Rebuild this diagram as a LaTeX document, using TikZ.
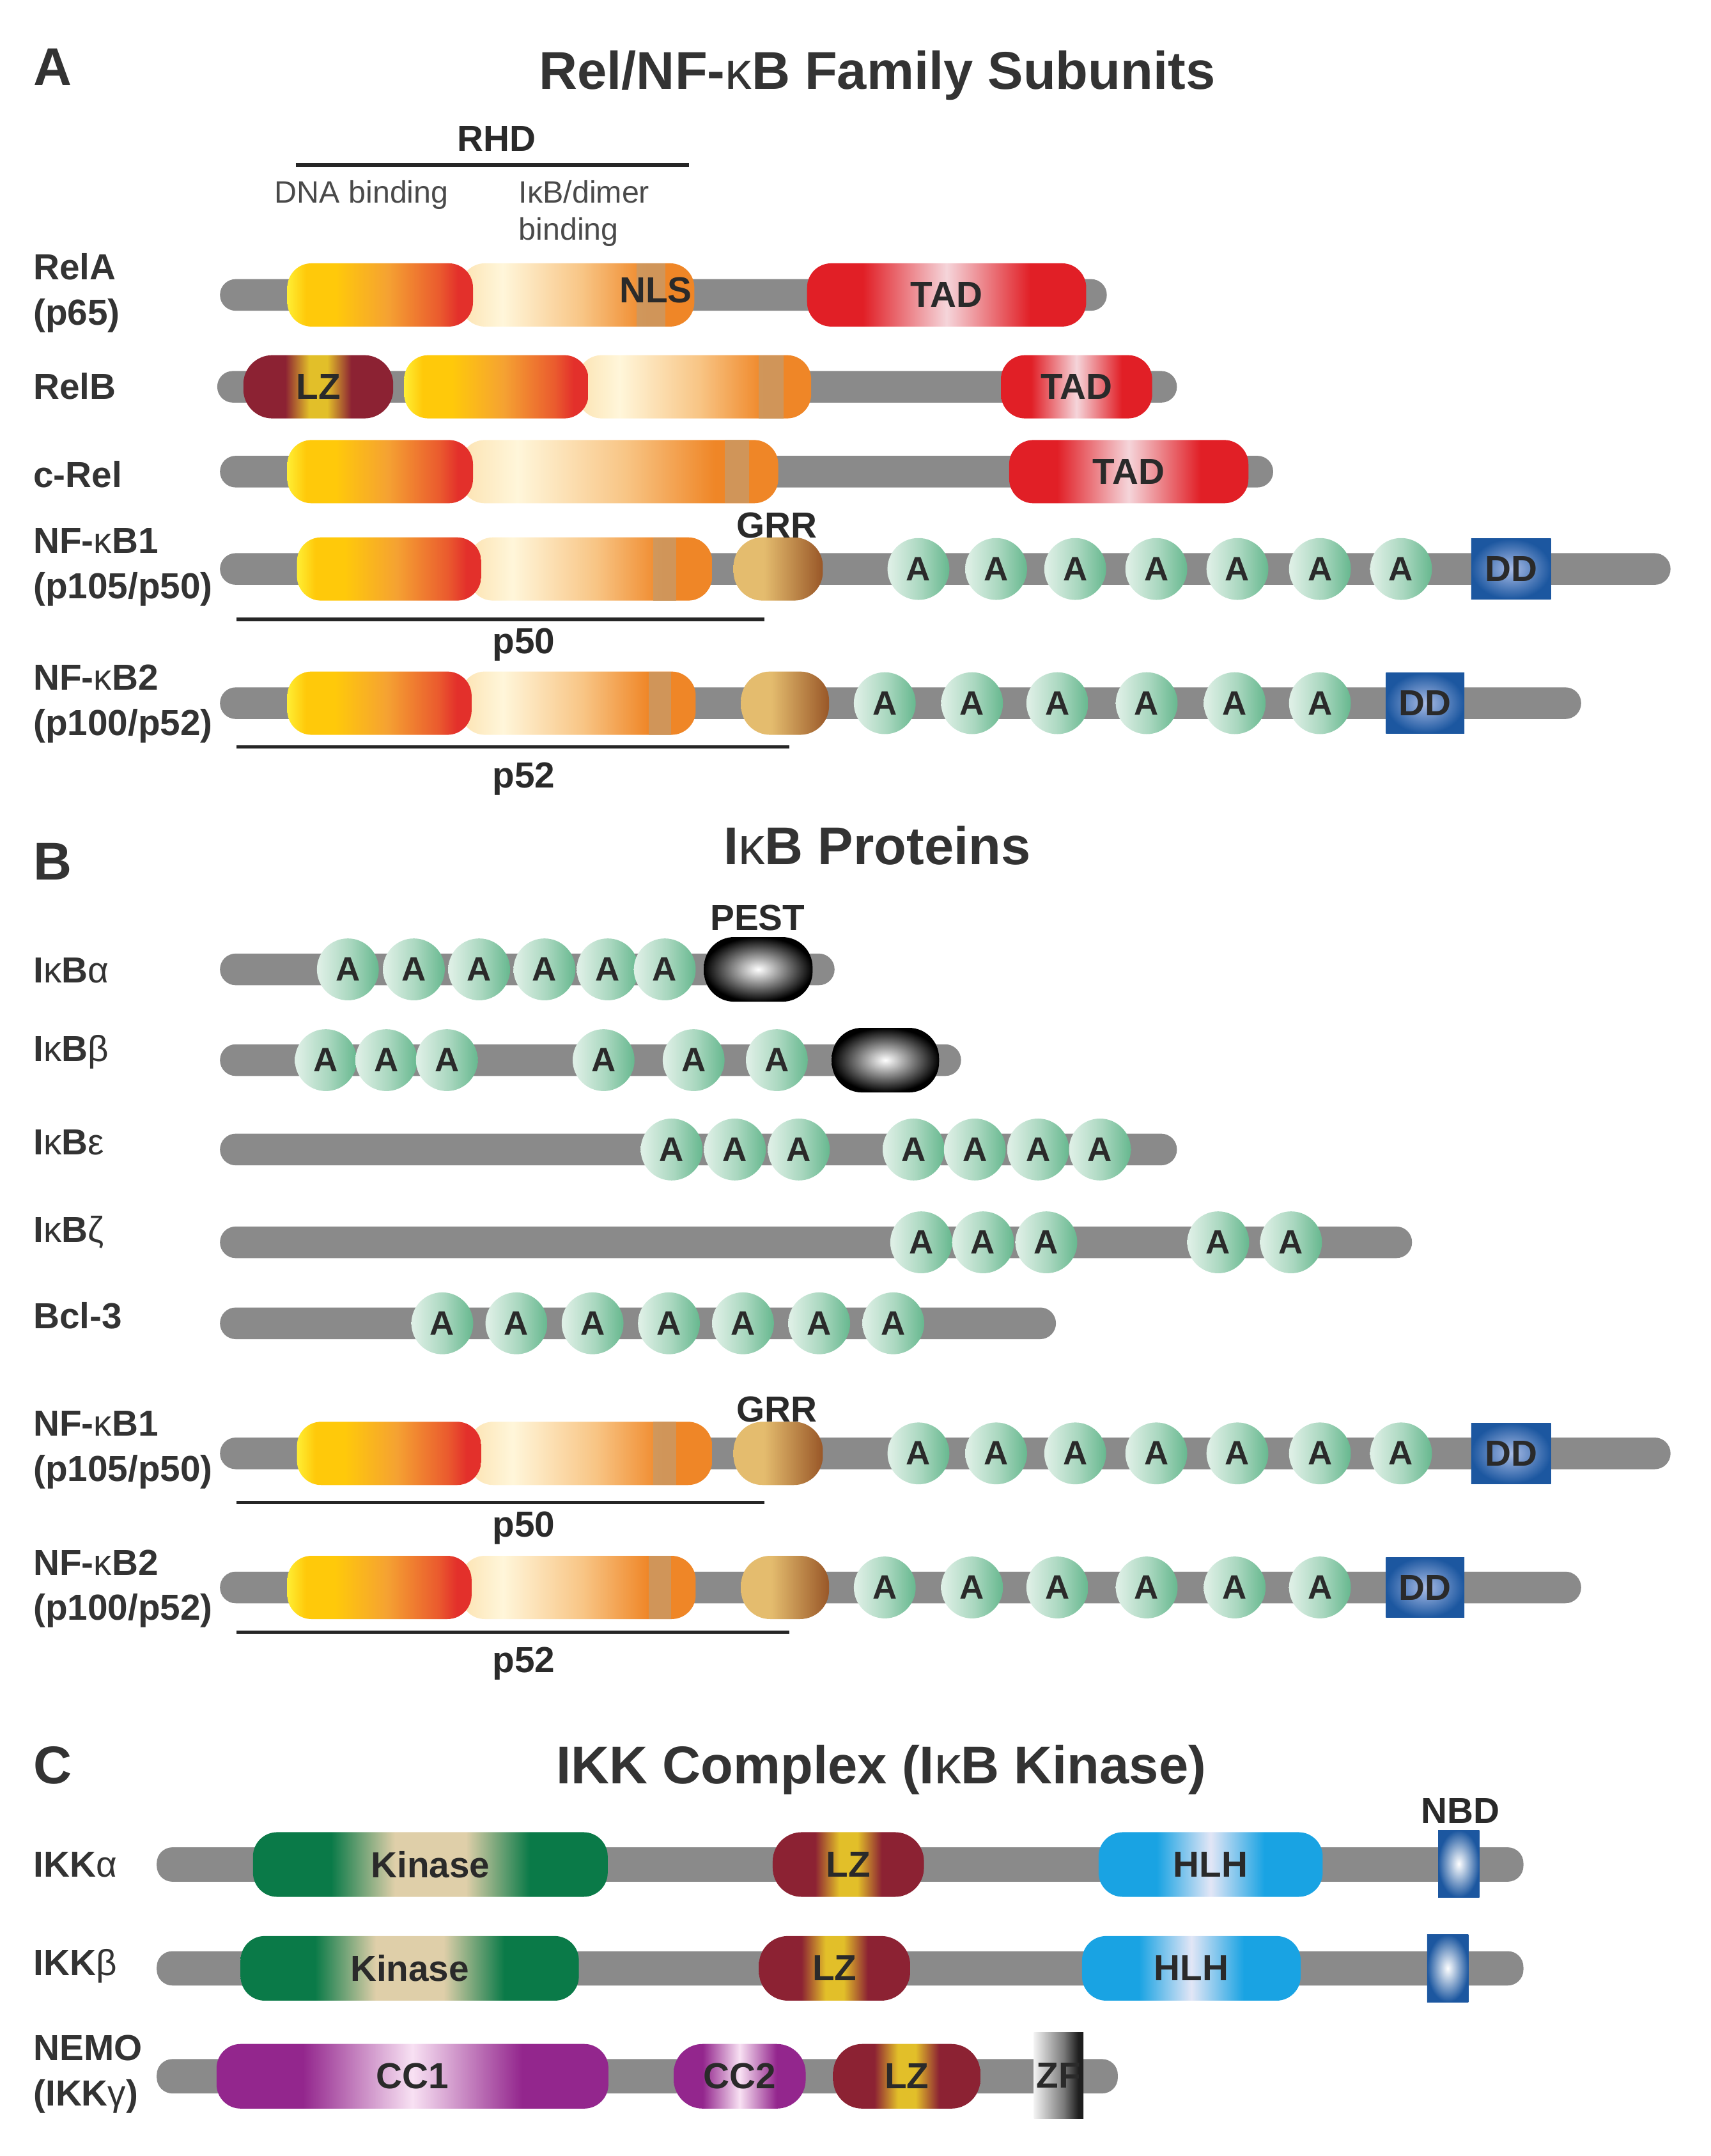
\documentclass[tikz,border=0pt]{standalone}
\usepackage{fontspec}
\setmainfont{Liberation Sans}

\definecolor{bbgray}{HTML}{8A8A8A}
\definecolor{txtgray}{HTML}{2A2A2A}
\definecolor{lblgray}{HTML}{333333}
\definecolor{notegray}{HTML}{4A4A4A}
\definecolor{dnayel}{HTML}{FFEE33}
\definecolor{dnagold}{HTML}{FFC90A}
\definecolor{dnaor}{HTML}{F5A232}
\definecolor{dnaredor}{HTML}{EA5A2E}
\definecolor{dnared}{HTML}{E3302B}
\definecolor{crpale}{HTML}{FFF6DA}
\definecolor{crside}{HTML}{FCE3B2}
\definecolor{crlight}{HTML}{F8C585}
\definecolor{cror}{HTML}{EF8627}
\definecolor{nlstan}{HTML}{C69B6A}
\definecolor{tadred}{HTML}{E11F26}
\definecolor{tadpink}{HTML}{F5D5DA}
\definecolor{lzred}{HTML}{8C2233}
\definecolor{lzyel}{HTML}{E2BF29}
\definecolor{grrtan}{HTML}{E4BC6E}
\definecolor{grrbrn}{HTML}{9B5A2A}
\definecolor{ankl}{HTML}{DDEFE5}
\definecolor{ankm}{HTML}{A9D7BF}
\definecolor{ankd}{HTML}{67B88F}
\definecolor{ddblue}{HTML}{1C57A0}
\definecolor{ddlight}{HTML}{A9BCE6}
\definecolor{kingrn}{HTML}{0A7A48}
\definecolor{kinbeige}{HTML}{DFCFA9}
\definecolor{hlhblue}{HTML}{19A3E3}
\definecolor{hlhpale}{HTML}{E2E6F6}
\definecolor{ccpur}{HTML}{93268D}
\definecolor{ccpale}{HTML}{F8E1F3}
\definecolor{zfdark}{HTML}{1E1E1E}
\definecolor{zfmid}{HTML}{7A7A7A}
\definecolor{zflight}{HTML}{F2F2F2}

\pgfdeclarehorizontalshading{dnashade}{100bp}{color(0bp)=(dnayel); color(25bp)=(dnayel); color(30bp)=(dnagold); color(38bp)=(dnagold); color(52bp)=(dnaor); color(66bp)=(dnaredor); color(71bp)=(dnared); color(100bp)=(dnared)}
\pgfdeclarehorizontalshading{dimershade}{100bp}{color(0bp)=(crside); color(25bp)=(crside); color(34bp)=(crpale); color(51bp)=(crlight); color(65bp)=(cror); color(100bp)=(cror)}
\pgfdeclarehorizontalshading{tadshade}{100bp}{color(0bp)=(tadred); color(35bp)=(tadred); color(50bp)=(tadpink); color(65bp)=(tadred); color(100bp)=(tadred)}
\pgfdeclarehorizontalshading{lzshade}{100bp}{color(0bp)=(lzred); color(39bp)=(lzred); color(47bp)=(lzyel); color(53bp)=(lzyel); color(61bp)=(lzred); color(100bp)=(lzred)}
\pgfdeclarehorizontalshading{grrshade}{100bp}{color(0bp)=(grrtan); color(42bp)=(grrtan); color(74bp)=(grrbrn); color(100bp)=(grrbrn)}
\pgfdeclarehorizontalshading{kinshade}{100bp}{color(0bp)=(kingrn); color(36bp)=(kingrn); color(45bp)=(kinbeige); color(55bp)=(kinbeige); color(64bp)=(kingrn); color(100bp)=(kingrn)}
\pgfdeclarehorizontalshading{hlhshade}{100bp}{color(0bp)=(hlhblue); color(38bp)=(hlhblue); color(50bp)=(hlhpale); color(62bp)=(hlhblue); color(100bp)=(hlhblue)}
\pgfdeclarehorizontalshading{ccshade}{100bp}{color(0bp)=(ccpur); color(36bp)=(ccpur); color(50bp)=(ccpale); color(64bp)=(ccpur); color(100bp)=(ccpur)}
\pgfdeclarehorizontalshading{ankshade}{100bp}{color(0bp)=(ankl); color(27bp)=(ankl); color(52bp)=(ankm); color(75bp)=(ankd); color(100bp)=(ankd)}
\pgfdeclarehorizontalshading{zfshade}{100bp}{color(0bp)=(zflight); color(25bp)=(zflight); color(55bp)=(zfmid); color(70bp)=(zfdark); color(100bp)=(zfdark)}

\newcommand{\gk}[1]{{\mdseries #1}}
\newcommand{\domfont}{\bfseries\fontsize{15}{18}\selectfont}
\newcommand{\ankfont}{\bfseries\fontsize{14}{16}\selectfont}
\newcommand{\lblfont}{\bfseries\fontsize{15}{18.7}\selectfont}
\newcommand{\ttlfont}{\bfseries\fontsize{22}{26}\selectfont}
\newcommand{\notefont}{\fontsize{12.8}{15.3}\selectfont}

\tikzset{
  dw/.style={minimum width=#1*0.02cm},
  dh/.style={minimum height=#1*0.02cm},
  backbone/.style={fill=bbgray, rounded corners=6.5pt, inner sep=0pt, dh=23},
  dom/.style={rounded corners=10pt, inner sep=0pt, dh=46, text=txtgray, font=\domfont},
  dna/.style={shading=dnashade},
  dimer/.style={shading=dimershade},
  stripe/.style={fill=nlstan, fill opacity=0.75, inner sep=0pt, dh=46},
  tad/.style={shading=tadshade},
  lz/.style={shading=lzshade, rounded corners=12pt},
  grr/.style={shading=grrshade, rounded corners=12pt},
  kin/.style={shading=kinshade, dh=47},
  hlh/.style={shading=hlhshade, dh=47},
  cc/.style={shading=ccshade, dh=47},
  ank/.style={circle, inner sep=0pt, minimum size=45*0.02cm, shading=ankshade, text=txtgray, font=\ankfont},
  dd/.style={inner sep=0pt, dh=44, inner color=ddlight, outer color=ddblue, text=txtgray, font=\domfont},
  pest/.style={inner sep=0pt, rounded corners=12.5pt, dh=47, inner color=white, outer color=black},
  nbd/.style={inner sep=0pt, dw=30, dh=49, inner color=white, outer color=ddblue},
  zf/.style={inner sep=0pt, dh=63, shading=zfshade, text=txtgray, font=\domfont},
  dtext/.style={inner sep=0pt, text=txtgray, font=\domfont},
  lbl/.style={anchor=west, align=left, inner sep=0pt, text=lblgray, font=\lblfont},
  ttl/.style={inner sep=0pt, text=lblgray, font=\ttlfont},
  note/.style={inner sep=0pt, text=notegray, font=\notefont},
  span/.style={draw=black!85, line width=1.4pt}
}

\begin{document}
\begin{tikzpicture}[x=0.02cm, y=-0.02cm]
    \useasboundingbox (0,0) rectangle (1244,1568);

    % A: Rel/NF-kB family subunits
    \node[ttl, anchor=base west] at (24,62) (pa) {A};
    \node[ttl, anchor=base] at (638,65) (titlea) {Rel/NF-\gk{κ}B Family Subunits};
    \node[dtext] at (361,101) (rhd) {RHD};
    \coordinate (RHDl) at (215,120);
    \coordinate (RHDr) at (501,120);
    \draw[span] (RHDl) -- (RHDr);
    \node[note] at (263,142) (dnab) {DNA binding};
    \node[note, anchor=north west, align=left] at (377,131) (dimb) {IκB/dimer\\binding};

    \node[lbl] at (24,213) (rela) {RelA\\(p65)};
    \node[lbl] at (24,281) (relb) {RelB};
    \node[lbl] at (24,345) (crel) {c-Rel};
    \node[lbl] at (24,412.5) (nfkb1) {NF-\gk{κ}B1\\(p105/p50)};
    \node[lbl] at (24,512) (nfkb2) {NF-\gk{κ}B2\\(p100/p52)};

    \node[backbone, dw=645] at (482.5,214.5) (RELA) {};
    \node[dom, dimer, dw=170] at (420,214.5) (DIM1) {};
    \node[stripe, dw=21] at (473.5,214.5) (NLS1) {};
    \node[dom, dna, dw=135] at (276.5,214.5) (DNA1) {};
    \node[dom, tad, dw=203] at (688.5,214.5) (TAD1) {TAD};
    \node[dtext] at (477,211) (nls) {NLS};

    \node[backbone, dw=698] at (507,281.3) (RELB) {};
    \node[dom, lz, dw=109] at (231.5,281.3) (LZ1) {LZ};
    \node[dom, dimer, dw=170] at (505,281.3) (DIM2) {};
    \node[stripe, dw=18] at (561,281.3) (NLS2) {};
    \node[dom, dna, dw=134] at (361,281.3) (DNA2) {};
    \node[dom, tad, dw=110] at (783,281.3) (TAD2) {TAD};

    \node[backbone, dw=766] at (543,343) (CREL) {};
    \node[dom, dimer, dw=231] at (450.5,343) (DIM3) {};
    \node[stripe, dw=18] at (536,343) (NLS3) {};
    \node[dom, dna, dw=135] at (276.5,343) (DNA3) {};
    \node[dom, tad, dw=174] at (821,343) (TAD3) {TAD};

    \node[backbone, dw=1055] at (687.5,413.8) (NFKB1) {};
    \node[dom, dimer, dw=177] at (429.5,413.8) (DIM4) {};
    \node[stripe, dw=17] at (483.5,413.8) (NLS4) {};
    \node[dom, dna, dw=134] at (283,413.8) (DNA4) {};
    \node[dom, grr, dw=65] at (566,413.8) (GRR1) {};
    \node[dtext] at (565,382) (grr1) {GRR};
    \node[ank] at (668,413.8) (ANK1) {A};
    \node[ank] at (724.5,413.8) (ANK2) {A};
    \node[ank] at (782,413.8) (ANK3) {A};
    \node[ank] at (841,413.8) (ANK4) {A};
    \node[ank] at (900,413.8) (ANK5) {A};
    \node[ank] at (960,413.8) (ANK6) {A};
    \node[ank] at (1019,413.8) (ANK7) {A};
    \node[dd, dw=58] at (1099,413.8) (DD1) {DD};
    \coordinate (P50l) at (172,450.4);
    \coordinate (P50r) at (556,450.4);
    \draw[span] (P50l) -- (P50r);
    \node[dtext] at (381,469) (p50) {p50};

    \node[backbone, dw=990] at (655,511.4) (NFKB2) {};
    \node[dom, dimer, dw=171] at (420.5,511.4) (DIM5) {};
    \node[stripe, dw=16] at (480,511.4) (NLS5) {};
    \node[dom, dna, dw=134] at (276,511.4) (DNA5) {};
    \node[dom, grr, dw=64] at (571,511.4) (GRR2) {};
    \node[ank] at (643.5,511.4) (ANK8) {A};
    \node[ank] at (707,511.4) (ANK9) {A};
    \node[ank] at (769,511.4) (ANK10) {A};
    \node[ank] at (834,511.4) (ANK11) {A};
    \node[ank] at (898,511.4) (ANK12) {A};
    \node[ank] at (960,511.4) (ANK13) {A};
    \node[dd, dw=57] at (1036.5,511.4) (DD2) {DD};
    \coordinate (P52l) at (172,543.3);
    \coordinate (P52r) at (574,543.3);
    \draw[span] (P52l) -- (P52r);
    \node[dtext] at (381,566.4) (p52) {p52};

    % B: IkB proteins
    \node[ttl, anchor=base west] at (24,640) (pb) {B};
    \node[ttl, anchor=base] at (638,628.8) (titleb) {I\gk{κ}B Proteins};

    \node[lbl] at (24,706) (ikba) {I\gk{κ}B\gk{α}};
    \node[lbl] at (24,765) (ikbb) {I\gk{κ}B\gk{β}};
    \node[lbl] at (24,831) (ikbe) {I\gk{κ}B\gk{ε}};
    \node[lbl] at (24,896) (ikbz) {I\gk{κ}B\gk{ζ}};
    \node[lbl] at (24,957) (bcl3) {Bcl-3};
    \node[lbl] at (24,1054.6) (nfkb1b) {NF-\gk{κ}B1\\(p105/p50)};
    \node[lbl] at (24,1155.5) (nfkb2b) {NF-\gk{κ}B2\\(p100/p52)};

    \node[backbone, dw=447] at (383.5,705) (IKBA) {};
    \node[ank] at (253,705) (ANK14) {A};
    \node[ank] at (301,705) (ANK15) {A};
    \node[ank] at (348.5,705) (ANK16) {A};
    \node[ank] at (396,705) (ANK17) {A};
    \node[ank] at (442,705) (ANK18) {A};
    \node[ank] at (483.5,705) (ANK19) {A};
    \node[pest, dw=79] at (551.5,705) (PEST1) {};
    \node[dtext] at (551,667.5) (pest) {PEST};

    \node[backbone, dw=539] at (429.5,771) (IKBB) {};
    \node[ank] at (237,771) (ANK20) {A};
    \node[ank] at (281,771) (ANK21) {A};
    \node[ank] at (325,771) (ANK22) {A};
    \node[ank] at (439,771) (ANK23) {A};
    \node[ank] at (504.5,771) (ANK24) {A};
    \node[ank] at (565,771) (ANK25) {A};
    \node[pest, dw=78] at (644,771) (PEST2) {};

    \node[backbone, dw=696] at (508,836) (IKBE) {};
    \node[ank] at (488.5,836) (ANK26) {A};
    \node[ank] at (534.5,836) (ANK27) {A};
    \node[ank] at (581,836) (ANK28) {A};
    \node[ank] at (664.5,836) (ANK29) {A};
    \node[ank] at (709,836) (ANK30) {A};
    \node[ank] at (755,836) (ANK31) {A};
    \node[ank] at (800,836) (ANK32) {A};

    \node[backbone, dw=867] at (593.5,903.5) (IKBZ) {};
    \node[ank] at (670,903.5) (ANK33) {A};
    \node[ank] at (715,903.5) (ANK34) {A};
    \node[ank] at (761,903.5) (ANK35) {A};
    \node[ank] at (886,903.5) (ANK36) {A};
    \node[ank] at (939,903.5) (ANK37) {A};

    \node[backbone, dw=608] at (464,962.4) (BCL3) {};
    \node[ank] at (321.7,962.4) (ANK38) {A};
    \node[ank] at (375.6,962.4) (ANK39) {A};
    \node[ank] at (431,962.4) (ANK40) {A};
    \node[ank] at (486.5,962.4) (ANK41) {A};
    \node[ank] at (540.4,962.4) (ANK42) {A};
    \node[ank] at (595.8,962.4) (ANK43) {A};
    \node[ank] at (649.7,962.4) (ANK44) {A};

    \node[backbone, dw=1055] at (687.5,1057) (NFKB1B) {};
    \node[dom, dimer, dw=177] at (429.5,1057) (DIM6) {};
    \node[stripe, dw=17] at (483.5,1057) (NLS6) {};
    \node[dom, dna, dw=134] at (283,1057) (DNA6) {};
    \node[dom, grr, dw=65] at (566,1057) (GRR3) {};
    \node[dtext] at (565,1025) (grr3) {GRR};
    \node[ank] at (668,1057) (ANK45) {A};
    \node[ank] at (724.5,1057) (ANK46) {A};
    \node[ank] at (782,1057) (ANK47) {A};
    \node[ank] at (841,1057) (ANK48) {A};
    \node[ank] at (900,1057) (ANK49) {A};
    \node[ank] at (960,1057) (ANK50) {A};
    \node[ank] at (1019,1057) (ANK51) {A};
    \node[dd, dw=58] at (1099,1057) (DD3) {DD};
    \coordinate (P50lb) at (172,1092.5);
    \coordinate (P50rb) at (556,1092.5);
    \draw[span] (P50lb) -- (P50rb);
    \node[dtext] at (381,1111.5) (p50b) {p50};

    \node[backbone, dw=990] at (655,1154.5) (NFKB2B) {};
    \node[dom, dimer, dw=171] at (420.5,1154.5) (DIM7) {};
    \node[stripe, dw=16] at (480,1154.5) (NLS7) {};
    \node[dom, dna, dw=134] at (276,1154.5) (DNA7) {};
    \node[dom, grr, dw=64] at (571,1154.5) (GRR4) {};
    \node[ank] at (643.5,1154.5) (ANK52) {A};
    \node[ank] at (707,1154.5) (ANK53) {A};
    \node[ank] at (769,1154.5) (ANK54) {A};
    \node[ank] at (834,1154.5) (ANK55) {A};
    \node[ank] at (898,1154.5) (ANK56) {A};
    \node[ank] at (960,1154.5) (ANK57) {A};
    \node[dd, dw=57] at (1036.5,1154.5) (DD4) {DD};
    \coordinate (P52lb) at (172,1187);
    \coordinate (P52rb) at (574,1187);
    \draw[span] (P52lb) -- (P52rb);
    \node[dtext] at (381,1210) (p52b) {p52};

    % C: IKK complex
    \node[ttl, anchor=base west] at (24,1297) (pc) {C};
    \node[ttl, anchor=base] at (641,1297) (titlec) {IKK Complex (I\gk{κ}B Kinase)};

    \node[lbl] at (24,1356) (ikka) {IKK\gk{α}};
    \node[lbl] at (24,1430) (ikkb) {IKK\gk{β}};
    \node[lbl] at (24,1508.5) (nemo) {NEMO\\(IKK\gk{γ})};

    \node[backbone, dh=25, dw=994] at (611,1356) (IKKA) {};
    \node[dom, kin, dw=258] at (313,1356) (KIN1) {Kinase};
    \node[dom, lz, dh=47, dw=110] at (617,1356) (LZ2) {LZ};
    \node[dom, hlh, dw=163] at (880.5,1356) (HLH1) {HLH};
    \node[nbd] at (1061,1355.5) (NBD1) {};
    \node[dtext] at (1062,1317) (nbd) {NBD};

    \node[backbone, dh=25, dw=994] at (611,1431.5) (IKKB) {};
    \node[dom, kin, dw=246] at (298,1431.5) (KIN2) {Kinase};
    \node[dom, lz, dh=47, dw=110] at (607,1431.5) (LZ3) {LZ};
    \node[dom, hlh, dw=159] at (866.5,1431.5) (HLH2) {HLH};
    \node[nbd] at (1053,1431.5) (NBD2) {};

    \node[backbone, dh=25, dw=699] at (463.5,1510) (NEMO) {};
    \node[dom, cc, dw=285] at (300,1510) (CC1) {CC1};
    \node[dom, cc, rounded corners=12pt, dw=96] at (538,1510) (CC2) {CC2};
    \node[dom, lz, dh=47, dw=107] at (659.5,1510) (LZ4) {LZ};
    \node[zf, dw=36] at (770,1509.5) (ZF1) {ZF};
\end{tikzpicture}
\end{document}
